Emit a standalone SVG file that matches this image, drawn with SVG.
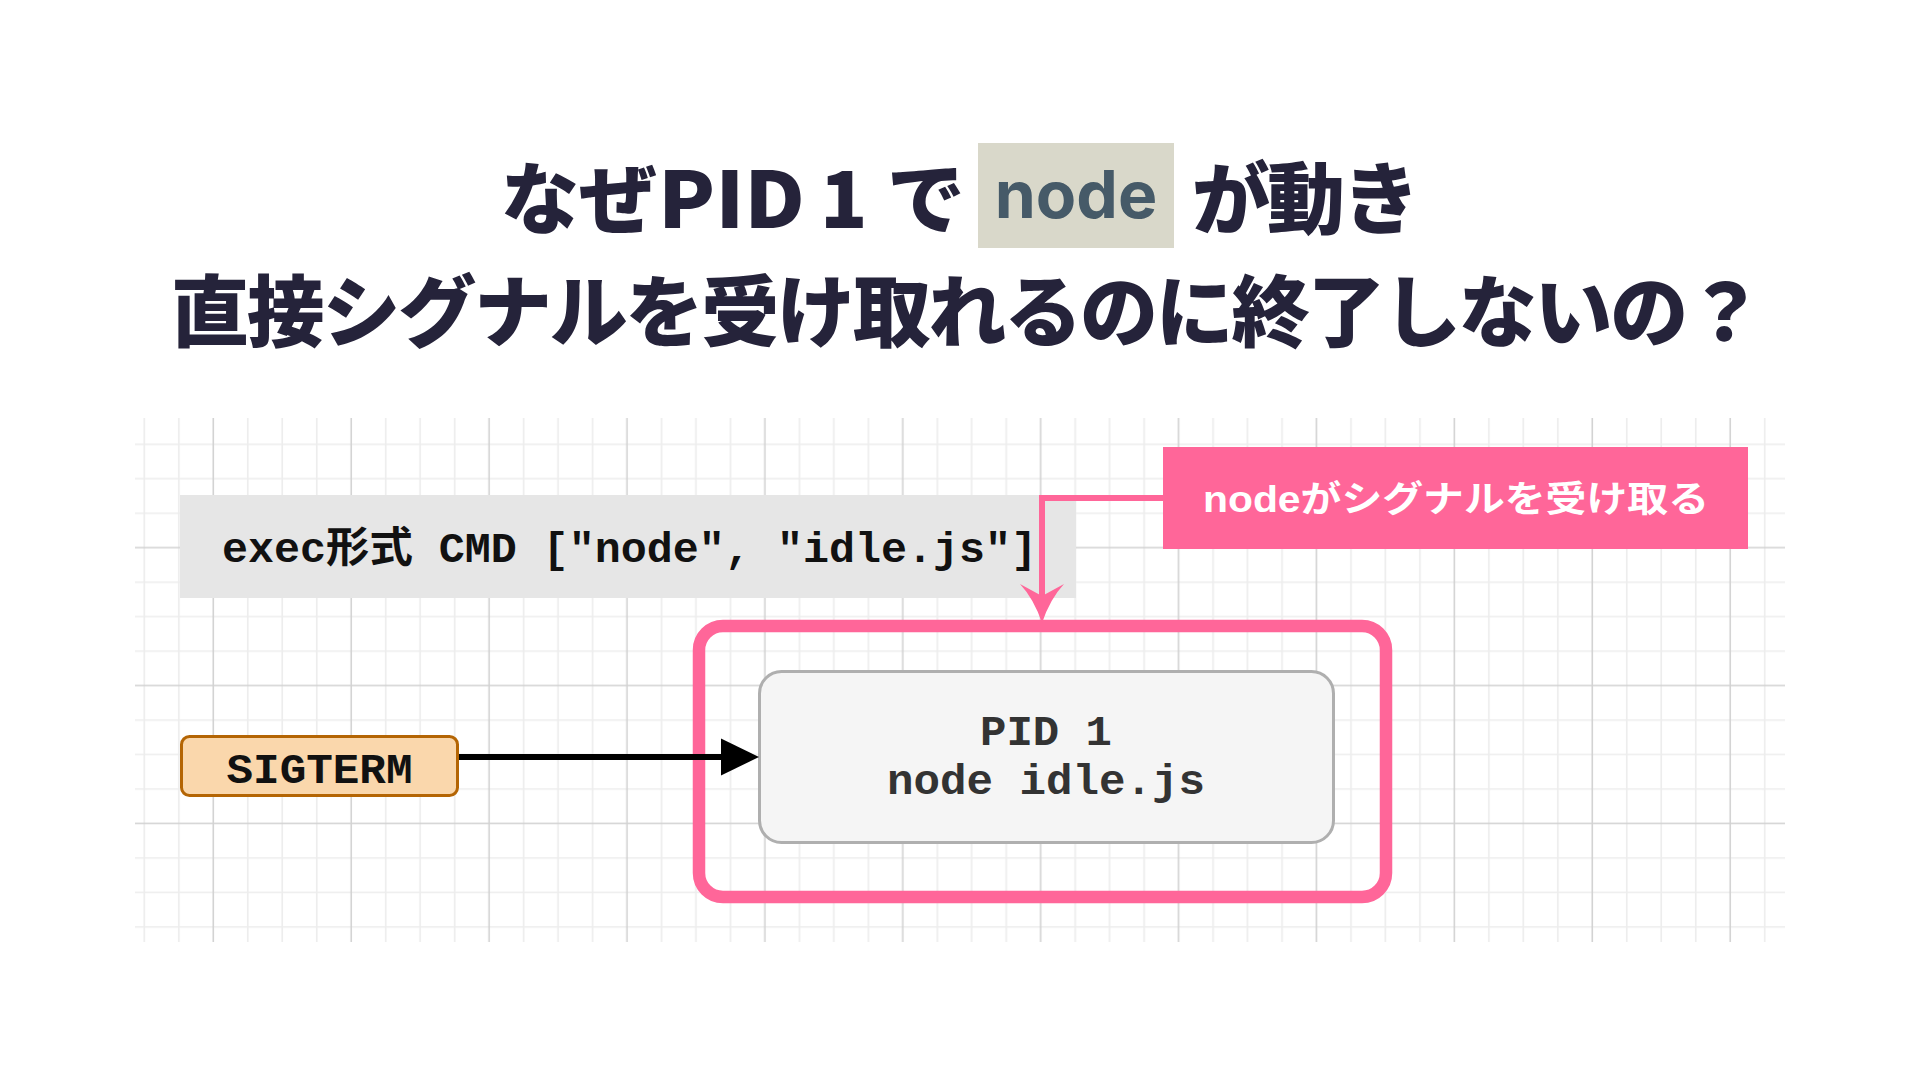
<svg xmlns="http://www.w3.org/2000/svg" width="1920" height="1080" viewBox="0 0 1920 1080">
  <style>
    .title { font-family: "Noto Sans CJK JP", "Noto Sans", sans-serif; font-weight: 900; font-size: 78px; fill: #25233A; }
    .mono { font-family: "Liberation Mono", "Noto Sans CJK JP", monospace; font-weight: 700; font-size: 42px; }
    .label { font-family: "Liberation Sans", "Noto Sans CJK JP", sans-serif; font-weight: 700; font-size: 36px; fill: #FFFFFF; }
    .minor { stroke: #EDEDED; stroke-width: 1.7; }
    .major { stroke: #D2D2D2; stroke-width: 1.6; }
  </style>
  <defs>
    <pattern id="grid" patternUnits="userSpaceOnUse" x="196.06" y="530.46" width="137.9" height="137.9">
      <line class="minor" x1="51.71" y1="0" x2="51.71" y2="137.9"/>
      <line class="minor" x1="86.19" y1="0" x2="86.19" y2="137.9"/>
      <line class="minor" x1="120.66" y1="0" x2="120.66" y2="137.9"/>
      <line class="minor" x1="0" y1="51.71" x2="137.9" y2="51.71"/>
      <line class="minor" x1="0" y1="86.19" x2="137.9" y2="86.19"/>
      <line class="minor" x1="0" y1="120.66" x2="137.9" y2="120.66"/>
      <line class="major" x1="17.24" y1="0" x2="17.24" y2="137.9"/>
      <line class="major" x1="0" y1="17.24" x2="137.9" y2="17.24"/>
    </pattern>
    <marker id="pinkArrow" markerUnits="userSpaceOnUse" markerWidth="44" markerHeight="46" refX="12" refY="22" orient="auto" overflow="visible">
      <path d="M0,0 Q15,14 39,22 Q15,30 0,44 L12,22 Z" fill="#FF6699"/>
    </marker>
    <marker id="blackArrow" markerUnits="userSpaceOnUse" markerWidth="40" markerHeight="40" refX="0" refY="18.5" orient="auto" overflow="visible">
      <path d="M0,0 L38,18.5 L0,37 Z" fill="#000000"/>
    </marker>
  </defs>

  <rect x="0" y="0" width="1920" height="1080" fill="#FFFFFF"/>

  <g id="title">
    <text class="title" x="501" y="228">なぜ</text>
    <text class="title" x="658" y="228" textLength="147" lengthAdjust="spacingAndGlyphs">PID</text>
    <text class="title" x="820" y="228">1</text>
    <text class="title" x="887" y="228">で</text>
    <rect x="978" y="143" width="196" height="105" fill="#D9D8CA"/>
    <text x="1076" y="218" text-anchor="middle" font-family="Inter, 'Noto Sans', sans-serif" font-weight="700" font-size="66" fill="#465A68">node</text>
    <text class="title" x="1192" y="228" textLength="228" lengthAdjust="spacing">が動き</text>
    <text class="title" x="171" y="341" textLength="1593" lengthAdjust="spacing">直接シグナルを受け取れるのに終了しないの？</text>
  </g>

  <g id="grid-bg">
    <rect x="135" y="418" width="1650" height="524" fill="url(#grid)"/>
  </g>

  <g id="node-exec">
    <rect x="180" y="495" width="896" height="103" fill="#E6E6E6"/>
    <text class="mono" x="222" y="562" fill="#111111" textLength="815" lengthAdjust="spacingAndGlyphs">exec形式 CMD ["node", "idle.js"]</text>
  </g>

  <g id="node-sigterm">
    <rect x="181.5" y="736.5" width="276" height="59" rx="8" fill="#FAD7AC" stroke="#B46504" stroke-width="3"/>
    <text class="mono" x="319.5" y="783" text-anchor="middle" fill="#111111" textLength="186" lengthAdjust="spacingAndGlyphs">SIGTERM</text>
  </g>

  <g id="node-pid1">
    <rect x="759.5" y="671.5" width="574" height="171" rx="22" fill="#F5F5F5" stroke="#AFAFAF" stroke-width="3"/>
    <text class="mono" x="1046" y="745" text-anchor="middle" fill="#333333" textLength="132" lengthAdjust="spacingAndGlyphs">PID 1</text>
    <text class="mono" x="1046" y="794" text-anchor="middle" fill="#333333" textLength="318" lengthAdjust="spacingAndGlyphs">node idle.js</text>
  </g>

  <g id="node-frame">
    <rect x="699" y="626" width="687" height="271" rx="24" fill="none" stroke="#FF6699" stroke-width="12.5"/>
  </g>

  <g id="node-label">
    <rect x="1163" y="447" width="585" height="102" fill="#FF6699"/>
    <text class="label" x="1203" y="512" textLength="506" lengthAdjust="spacingAndGlyphs">nodeがシグナルを受け取る</text>
  </g>

  <g id="connectors">
    <path d="M1163,498 H1042 V596" fill="none" stroke="#FF6699" stroke-width="6" marker-end="url(#pinkArrow)"/>
    <path d="M459,757 H721" fill="none" stroke="#000000" stroke-width="6" marker-end="url(#blackArrow)"/>
  </g>
</svg>
